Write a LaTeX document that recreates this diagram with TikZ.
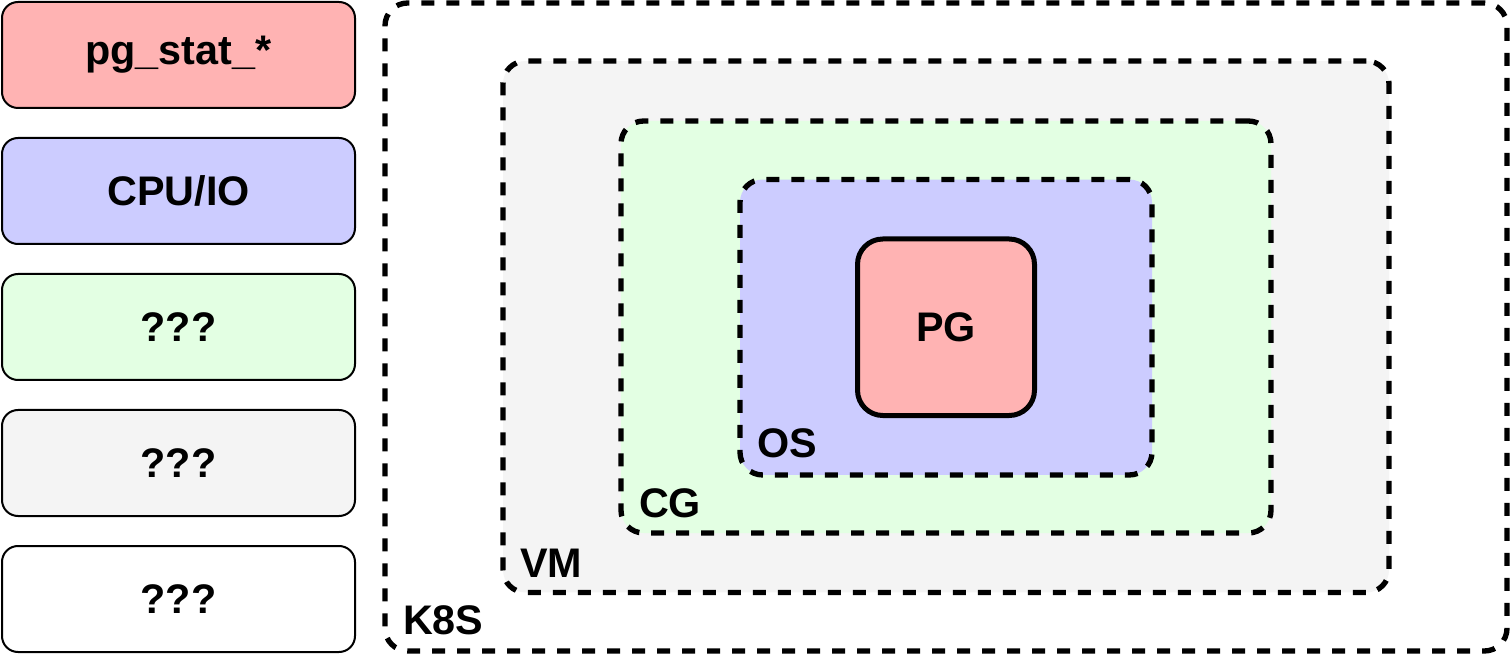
\documentclass[tikz,border=0pt]{standalone}
\usepackage{fontspec}
\setmainfont{Liberation Sans}
\definecolor{pinkf}{HTML}{FFB3B3}
\definecolor{bluef}{HTML}{CCCCFF}
\definecolor{greenf}{HTML}{E3FFE3}
\definecolor{grayf}{HTML}{F4F4F4}
\tikzset{
  lbl/.style={font=\fontsize{31}{36}\selectfont\bfseries, text=black},
  legend/.style={draw=black, line width=1.5pt, rounded corners=12pt, minimum width=264.75pt, minimum height=79.5pt, inner sep=0pt, outer sep=0pt, lbl},
  zone/.style={draw=black, line width=4pt, dash pattern=on 9.75pt off 9pt, rounded corners=17pt, inner sep=0pt, outer sep=0pt},
  zonelbl/.style={lbl, anchor=base west, inner sep=0pt, outer sep=0pt}
}
\begin{document}
\begin{tikzpicture}[x=0.75pt, y=-0.75pt]
\useasboundingbox (0,0) rectangle (1510,666);
% legend
\node[legend, fill=pinkf] (l1) at (178.5,55) {pg\_stat\_*};
\node[legend, fill=bluef] (l2) at (178.5,191) {CPU/IO};
\node[legend, fill=greenf] (l3) at (178.5,327) {???};
\node[legend, fill=grayf] (l4) at (178.5,463) {???};
\node[legend, fill=white] (l5) at (178.5,599) {???};
% nested zones
\node[zone, fill=white, minimum width=841.5pt, minimum height=486pt] (k8s) at (946,327) {};
\node[zone, fill=grayf, minimum width=664.5pt, minimum height=398.6pt] (vm) at (946,326.75) {};
\node[zone, fill=greenf, minimum width=487.5pt, minimum height=309pt] (cg) at (946,327) {};
\node[zone, fill=bluef, minimum width=309pt, minimum height=221.6pt] (os) at (946,327.25) {};
\node[draw=black, line width=3.75pt, fill=pinkf, rounded corners=19pt, minimum width=132.75pt, minimum height=132.4pt, inner sep=0pt, outer sep=0pt, lbl] (pg) at (946,327.25) {PG};
% zone labels
\node[zonelbl] (k8slbl) at (403,634) {K8S};
\node[zonelbl] (vmlbl) at (520,577) {VM};
\node[zonelbl] (cglbl) at (639,517) {CG};
\node[zonelbl] (oslbl) at (757,457) {OS};
\end{tikzpicture}
\end{document}
